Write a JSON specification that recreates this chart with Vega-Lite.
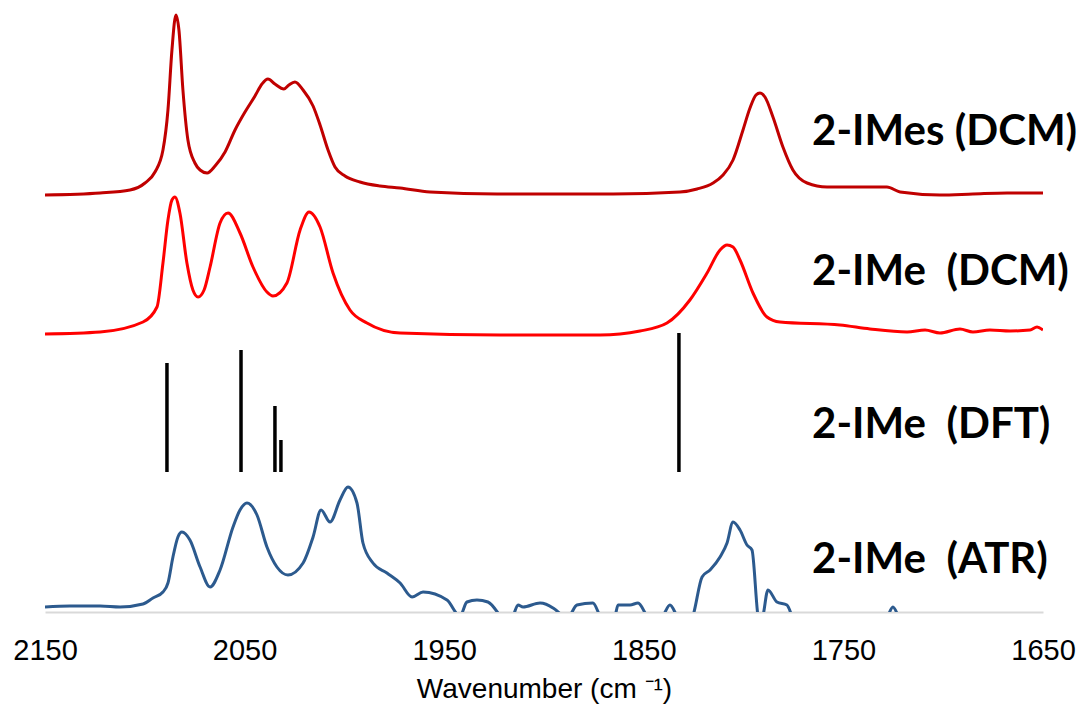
{
  "$schema": "https://vega.github.io/schema/vega-lite/v6.json",
  "width": 998,
  "height": 612,
  "autosize": "none",
  "padding": {"left": 45, "top": 0, "right": 43, "bottom": 98},
  "background": "white",
  "config": {"view": {"stroke": null}},
  "datasets": {
    "spectra": [
      {"series": "IMes", "wn": 2150, "v": 417}, {"series": "IMes", "wn": 2122.4, "v": 419}, {"series": "IMes", "wn": 2107.4, "v": 422}, {"series": "IMes", "wn": 2099.9, "v": 429}, {"series": "IMes", "wn": 2094.9, "v": 440}, {"series": "IMes", "wn": 2090.9, "v": 462}, {"series": "IMes", "wn": 2088.4, "v": 502}, {"series": "IMes", "wn": 2086.4, "v": 562}, {"series": "IMes", "wn": 2084.4, "v": 597}, {"series": "IMes", "wn": 2082.9, "v": 582}, {"series": "IMes", "wn": 2080.9, "v": 522}, {"series": "IMes", "wn": 2078.4, "v": 472}, {"series": "IMes", "wn": 2074.9, "v": 449}, {"series": "IMes", "wn": 2072.3, "v": 442}, {"series": "IMes", "wn": 2068.8, "v": 439}, {"series": "IMes", "wn": 2064.8, "v": 446}, {"series": "IMes", "wn": 2059.8, "v": 460}, {"series": "IMes", "wn": 2054.8, "v": 482}, {"series": "IMes", "wn": 2049.8, "v": 500}, {"series": "IMes", "wn": 2044.8, "v": 516}, {"series": "IMes", "wn": 2041.3, "v": 528}, {"series": "IMes", "wn": 2038.3, "v": 533}, {"series": "IMes", "wn": 2034.8, "v": 528}, {"series": "IMes", "wn": 2030.3, "v": 523}, {"series": "IMes", "wn": 2027.8, "v": 527}, {"series": "IMes", "wn": 2024.8, "v": 530}, {"series": "IMes", "wn": 2020.7, "v": 522}, {"series": "IMes", "wn": 2015.7, "v": 506}, {"series": "IMes", "wn": 2012.2, "v": 487}, {"series": "IMes", "wn": 2008.2, "v": 462}, {"series": "IMes", "wn": 2004.7, "v": 445}, {"series": "IMes", "wn": 1999.7, "v": 436}, {"series": "IMes", "wn": 1992.2, "v": 430}, {"series": "IMes", "wn": 1982.2, "v": 426}, {"series": "IMes", "wn": 1972.1, "v": 424}, {"series": "IMes", "wn": 1957.1, "v": 420}, {"series": "IMes", "wn": 1923.5, "v": 418}, {"series": "IMes", "wn": 1865.4, "v": 418}, {"series": "IMes", "wn": 1831.9, "v": 420}, {"series": "IMes", "wn": 1823.3, "v": 423}, {"series": "IMes", "wn": 1815.3, "v": 429}, {"series": "IMes", "wn": 1810.3, "v": 437}, {"series": "IMes", "wn": 1805.3, "v": 452}, {"series": "IMes", "wn": 1800.3, "v": 482}, {"series": "IMes", "wn": 1796.8, "v": 504}, {"series": "IMes", "wn": 1793.8, "v": 517}, {"series": "IMes", "wn": 1791.8, "v": 519}, {"series": "IMes", "wn": 1789.3, "v": 515}, {"series": "IMes", "wn": 1785.3, "v": 495}, {"series": "IMes", "wn": 1780.3, "v": 465}, {"series": "IMes", "wn": 1775.3, "v": 442}, {"series": "IMes", "wn": 1768.2, "v": 429}, {"series": "IMes", "wn": 1758.2, "v": 425}, {"series": "IMes", "wn": 1728.2, "v": 425}, {"series": "IMes", "wn": 1721.6, "v": 420}, {"series": "IMes", "wn": 1701.6, "v": 417}, {"series": "IMes", "wn": 1685.1, "v": 418}, {"series": "IMes", "wn": 1668.0, "v": 419}, {"series": "IMes", "wn": 1650, "v": 419},
      {"series": "IMe", "wn": 2150, "v": 278}, {"series": "IMe", "wn": 2122.4, "v": 280}, {"series": "IMe", "wn": 2100.9, "v": 290}, {"series": "IMe", "wn": 2093.9, "v": 305}, {"series": "IMe", "wn": 2090.9, "v": 349}, {"series": "IMe", "wn": 2088.4, "v": 392}, {"series": "IMe", "wn": 2086.4, "v": 412}, {"series": "IMe", "wn": 2084.9, "v": 415}, {"series": "IMe", "wn": 2082.4, "v": 399}, {"series": "IMe", "wn": 2078.9, "v": 349}, {"series": "IMe", "wn": 2075.9, "v": 322}, {"series": "IMe", "wn": 2073.3, "v": 315}, {"series": "IMe", "wn": 2070.3, "v": 322}, {"series": "IMe", "wn": 2067.3, "v": 345}, {"series": "IMe", "wn": 2062.3, "v": 389}, {"series": "IMe", "wn": 2058.3, "v": 399}, {"series": "IMe", "wn": 2052.3, "v": 379}, {"series": "IMe", "wn": 2045.8, "v": 345}, {"series": "IMe", "wn": 2038.8, "v": 320}, {"series": "IMe", "wn": 2035.8, "v": 316}, {"series": "IMe", "wn": 2028.8, "v": 329}, {"series": "IMe", "wn": 2022.2, "v": 382}, {"series": "IMe", "wn": 2017.7, "v": 400}, {"series": "IMe", "wn": 2012.2, "v": 385}, {"series": "IMe", "wn": 2005.7, "v": 339}, {"series": "IMe", "wn": 1997.2, "v": 302}, {"series": "IMe", "wn": 1988.7, "v": 289}, {"series": "IMe", "wn": 1972.1, "v": 279}, {"series": "IMe", "wn": 1922.0, "v": 277}, {"series": "IMe", "wn": 1871.9, "v": 277}, {"series": "IMe", "wn": 1851.9, "v": 281}, {"series": "IMe", "wn": 1838.4, "v": 289}, {"series": "IMe", "wn": 1826.9, "v": 312}, {"series": "IMe", "wn": 1818.3, "v": 339}, {"series": "IMe", "wn": 1811.8, "v": 362}, {"series": "IMe", "wn": 1808.3, "v": 367}, {"series": "IMe", "wn": 1805.3, "v": 365}, {"series": "IMe", "wn": 1801.8, "v": 352}, {"series": "IMe", "wn": 1795.3, "v": 319}, {"series": "IMe", "wn": 1788.3, "v": 295}, {"series": "IMe", "wn": 1781.8, "v": 290}, {"series": "IMe", "wn": 1751.7, "v": 287}, {"series": "IMe", "wn": 1736.7, "v": 283}, {"series": "IMe", "wn": 1718.1, "v": 280}, {"series": "IMe", "wn": 1709.1, "v": 282}, {"series": "IMe", "wn": 1701.6, "v": 279}, {"series": "IMe", "wn": 1691.6, "v": 283}, {"series": "IMe", "wn": 1685.1, "v": 280}, {"series": "IMe", "wn": 1676.6, "v": 282}, {"series": "IMe", "wn": 1666.5, "v": 281}, {"series": "IMe", "wn": 1656.5, "v": 282}, {"series": "IMe", "wn": 1653.0, "v": 285}, {"series": "IMe", "wn": 1650, "v": 282},
      {"series": "ATR", "wn": 2150, "v": 5}, {"series": "ATR", "wn": 2137.5, "v": 6}, {"series": "ATR", "wn": 2122.4, "v": 6}, {"series": "ATR", "wn": 2112.4, "v": 5}, {"series": "ATR", "wn": 2100.9, "v": 8}, {"series": "ATR", "wn": 2095.9, "v": 14}, {"series": "ATR", "wn": 2090.9, "v": 20}, {"series": "ATR", "wn": 2088.4, "v": 29}, {"series": "ATR", "wn": 2085.9, "v": 55}, {"series": "ATR", "wn": 2083.4, "v": 75}, {"series": "ATR", "wn": 2081.4, "v": 80}, {"series": "ATR", "wn": 2077.4, "v": 72}, {"series": "ATR", "wn": 2072.3, "v": 45}, {"series": "ATR", "wn": 2067.3, "v": 25}, {"series": "ATR", "wn": 2062.3, "v": 42}, {"series": "ATR", "wn": 2055.8, "v": 85}, {"series": "ATR", "wn": 2052.3, "v": 102}, {"series": "ATR", "wn": 2048.8, "v": 109}, {"series": "ATR", "wn": 2043.8, "v": 97}, {"series": "ATR", "wn": 2038.8, "v": 65}, {"series": "ATR", "wn": 2033.8, "v": 45}, {"series": "ATR", "wn": 2028.3, "v": 37}, {"series": "ATR", "wn": 2020.7, "v": 49}, {"series": "ATR", "wn": 2015.7, "v": 75}, {"series": "ATR", "wn": 2011.7, "v": 102}, {"series": "ATR", "wn": 2007.2, "v": 90}, {"series": "ATR", "wn": 2002.2, "v": 112}, {"series": "ATR", "wn": 1998.2, "v": 125}, {"series": "ATR", "wn": 1993.7, "v": 109}, {"series": "ATR", "wn": 1990.7, "v": 69}, {"series": "ATR", "wn": 1985.7, "v": 49}, {"series": "ATR", "wn": 1978.7, "v": 39}, {"series": "ATR", "wn": 1972.1, "v": 29}, {"series": "ATR", "wn": 1966.1, "v": 15}, {"series": "ATR", "wn": 1960.6, "v": 20}, {"series": "ATR", "wn": 1948.6, "v": 12}, {"series": "ATR", "wn": 1942.1, "v": -4}, {"series": "ATR", "wn": 1938.6, "v": 10}, {"series": "ATR", "wn": 1933.6, "v": 12}, {"series": "ATR", "wn": 1928.1, "v": 10}, {"series": "ATR", "wn": 1922.0, "v": -4}, {"series": "ATR", "wn": 1919.0, "v": -13}, {"series": "ATR", "wn": 1915.5, "v": -4}, {"series": "ATR", "wn": 1913.0, "v": 7}, {"series": "ATR", "wn": 1910.5, "v": 5}, {"series": "ATR", "wn": 1902.0, "v": 9}, {"series": "ATR", "wn": 1895.5, "v": 4}, {"series": "ATR", "wn": 1891.0, "v": -4}, {"series": "ATR", "wn": 1889.0, "v": -10}, {"series": "ATR", "wn": 1887.0, "v": -4}, {"series": "ATR", "wn": 1883.5, "v": 7}, {"series": "ATR", "wn": 1875.5, "v": 9}, {"series": "ATR", "wn": 1871.9, "v": -4}, {"series": "ATR", "wn": 1868.4, "v": -13}, {"series": "ATR", "wn": 1864.4, "v": -4}, {"series": "ATR", "wn": 1862.9, "v": 7}, {"series": "ATR", "wn": 1856.9, "v": 7}, {"series": "ATR", "wn": 1852.9, "v": 9}, {"series": "ATR", "wn": 1848.4, "v": -4}, {"series": "ATR", "wn": 1844.4, "v": -13}, {"series": "ATR", "wn": 1840.4, "v": -4}, {"series": "ATR", "wn": 1836.9, "v": 7}, {"series": "ATR", "wn": 1833.4, "v": -4}, {"series": "ATR", "wn": 1829.4, "v": -16}, {"series": "ATR", "wn": 1825.4, "v": -4}, {"series": "ATR", "wn": 1820.8, "v": 35}, {"series": "ATR", "wn": 1816.8, "v": 42}, {"series": "ATR", "wn": 1811.8, "v": 55}, {"series": "ATR", "wn": 1808.3, "v": 69}, {"series": "ATR", "wn": 1805.3, "v": 90}, {"series": "ATR", "wn": 1801.8, "v": 82}, {"series": "ATR", "wn": 1798.3, "v": 67}, {"series": "ATR", "wn": 1795.8, "v": 62}, {"series": "ATR", "wn": 1792.8, "v": -4}, {"series": "ATR", "wn": 1791.8, "v": -13}, {"series": "ATR", "wn": 1790.3, "v": -4}, {"series": "ATR", "wn": 1787.8, "v": 22}, {"series": "ATR", "wn": 1783.3, "v": 10}, {"series": "ATR", "wn": 1778.3, "v": 7}, {"series": "ATR", "wn": 1775.8, "v": -4}, {"series": "ATR", "wn": 1771.7, "v": -28}, {"series": "ATR", "wn": 1751.7, "v": -38}, {"series": "ATR", "wn": 1729.7, "v": -13}, {"series": "ATR", "wn": 1727.7, "v": -4}, {"series": "ATR", "wn": 1725.2, "v": 5}, {"series": "ATR", "wn": 1722.6, "v": -4}, {"series": "ATR", "wn": 1719.1, "v": -28}, {"series": "ATR", "wn": 1671.6, "v": -38}, {"series": "ATR", "wn": 1650, "v": -38}
    ],
    "sticks": [
      {"wn": 2088.9, "v": 249},
      {"wn": 2051.8, "v": 262},
      {"wn": 2034.8, "v": 206},
      {"wn": 2031.8, "v": 172},
      {"wn": 1832.4, "v": 279}
    ],
    "labels": [
      {"wn": 1765.7, "v": 480, "text": "2-IMes (DCM)"},
      {"wn": 1765.7, "v": 340, "text": "2-IMe\u00a0 (DCM)"},
      {"wn": 1765.7, "v": 187, "text": "2-IMe\u00a0 (DFT)"},
      {"wn": 1765.7, "v": 52, "text": "2-IMe\u00a0 (ATR)"}
    ]
  },
  "encoding": {
    "x": {
      "field": "wn",
      "type": "quantitative",
      "scale": {"domain": [2150, 1650], "nice": false, "zero": false},
      "axis": {
        "values": [2150, 2050, 1950, 1850, 1750, 1650],
        "format": "d",
        "title": "Wavenumber (cm \u207b\u00b9)",
        "titleFont": "Liberation Sans",
        "titleFontSize": 28,
        "titleFontWeight": "normal",
        "titleColor": "#000000",
        "titlePadding": 10,
        "labelFont": "Liberation Sans",
        "labelFontSize": 29,
        "labelColor": "#000000",
        "labelPadding": 24,
        "labelFlush": false,
        "ticks": false,
        "grid": false,
        "domainColor": "#d9d9d9",
        "domainWidth": 2
      }
    },
    "y": {
      "field": "v",
      "type": "quantitative",
      "scale": {"domain": [0, 612], "nice": false, "zero": false},
      "axis": null
    }
  },
  "layer": [
    {
      "data": {"name": "spectra"},
      "mark": {"type": "line", "clip": true, "strokeWidth": 3, "interpolate": "monotone"},
      "encoding": {
        "order": {"field": "wn", "sort": "descending"},
        "color": {
          "field": "series",
          "type": "nominal",
          "scale": {"domain": ["IMes", "IMe", "ATR"], "range": ["#C00000", "#FF0000", "#2C5A8E"]},
          "legend": null
        }
      }
    },
    {
      "data": {"name": "sticks"},
      "mark": {"type": "rule", "color": "#000000", "strokeWidth": 3.5},
      "encoding": {
        "y2": {"datum": 140}
      }
    },
    {
      "data": {"name": "labels"},
      "mark": {"type": "text", "align": "left", "baseline": "middle", "font": "Lato", "fontWeight": "bold", "fontSize": 42, "color": "#000000"},
      "encoding": {
        "text": {"field": "text"}
      }
    }
  ]
}
